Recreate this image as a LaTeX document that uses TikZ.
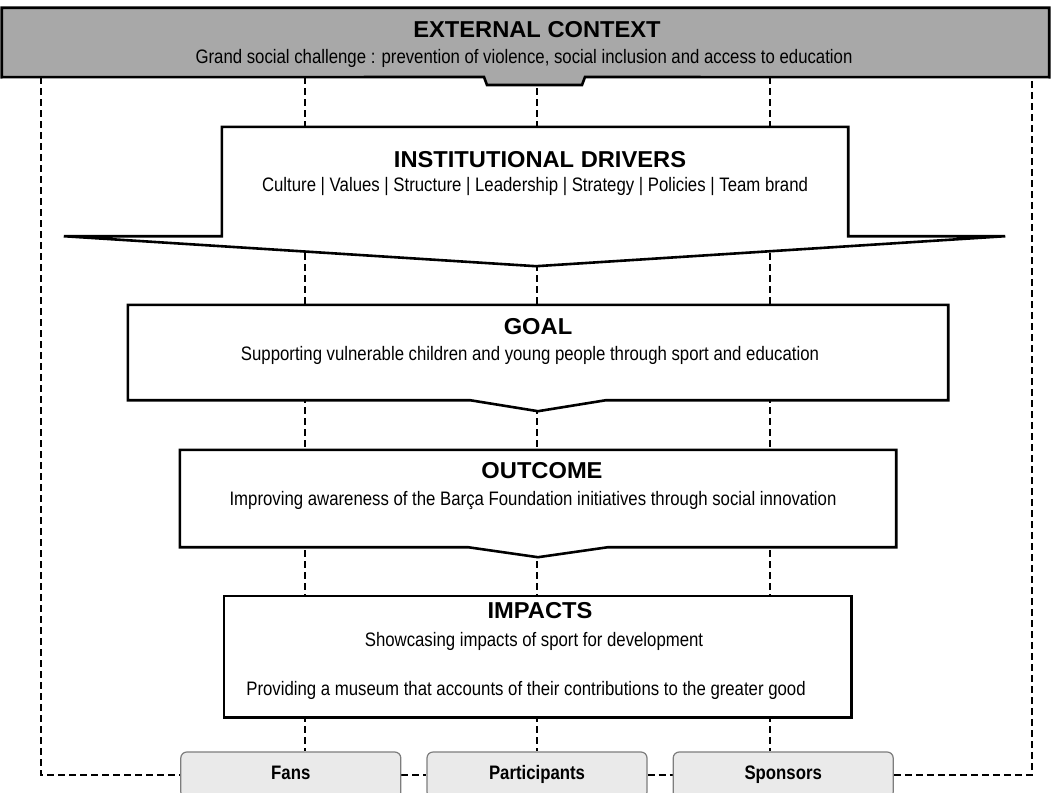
\documentclass[tikz,border=0pt]{standalone}
\usepackage{fontspec}
\setmainfont{Liberation Sans}[FakeStretch=0.86]
\newfontfamily\headfont{Liberation Sans Bold}[FakeStretch=1.03]
\usetikzlibrary{positioning,calc,backgrounds}
\usepackage{xcolor}
\definecolor{CtxGray}{RGB}{168,168,168}
\definecolor{StakeFill}{RGB}{234,234,234}
\definecolor{StakeLine}{RGB}{125,125,125}

\begin{document}
\begin{tikzpicture}[x=1pt,y=-1pt,
node distance=25pt,
frame/.style={draw=black,line width=2.6pt,line join=miter},
hold/.style={rectangle,inner sep=0pt},
ttl/.style={inner sep=0pt,font=\fontsize{23}{27}\headfont},
txt/.style={inner sep=0pt,font=\fontsize{19.5}{23}\selectfont},
link/.style={draw=black,line width=1.5pt,dash pattern=on 7pt off 4pt},
stake/.style={rectangle,rounded corners=6pt,draw=StakeLine,line width=1.2pt,fill=StakeFill,
minimum width=220pt,minimum height=46pt,text height=13pt,text depth=4pt,
font=\fontsize{19.5}{22}\selectfont\bfseries}
]
\useasboundingbox (0,0) rectangle (1051,792);

% frames
\node[hold,minimum width=1047pt,minimum height=69pt] (ctx) at (525.5,42.5) {};
\node[hold,minimum width=626pt,minimum height=109pt] (drv) at (535,181.5) {};
\node[hold,minimum width=820pt,minimum height=95pt] (goal) at (538,352.5) {};
\node[hold,minimum width=716pt,minimum height=97pt] (outc) at (538,498.5) {};
\node[hold,minimum width=627pt,minimum height=121pt] (imp) at (537.5,656.5) {};

\draw[frame,fill=CtxGray] (ctx.north west) -- (ctx.north east) -- (ctx.south east)
  -- (585,77) -- (582,85) -- (487,85) -- (484,77) -- (ctx.south west) -- cycle;
\draw[frame,fill=white] (drv.north west) -- (drv.north east) -- (drv.south east)
  -- ($(drv.south east)+(157,0)$) -- ($(drv.south)+(1,30)$)
  -- ($(drv.south west)+(-158,0)$) -- (drv.south west) -- cycle;
\draw[frame,fill=white] (goal.north west) -- (goal.north east) -- (goal.south east)
  -- ($(goal.south)+(68,0)$) -- ($(goal.south)+(0,11)$) -- ($(goal.south)+(-68,0)$)
  -- (goal.south west) -- cycle;
\draw[frame,fill=white] (outc.north west) -- (outc.north east) -- (outc.south east)
  -- ($(outc.south)+(70,0)$) -- ($(outc.south)+(0,10)$) -- ($(outc.south)+(-70,0)$)
  -- (outc.south west) -- cycle;
\draw[frame,fill=white] (imp.north west) rectangle (imp.south east);

% texts
\node[ttl] (ctxT) at (537,30) {EXTERNAL CONTEXT};
\node[txt] (ctxS) at (524,58) {Grand social challenge : prevention of violence, social inclusion and access to education};
\node[ttl] (drvT) at (540,160) {INSTITUTIONAL DRIVERS};
\node[txt] (drvS) at (535,186) {Culture | Values | Structure | Leadership | Strategy | Policies | Team brand};
\node[ttl] (goalT) at (538,327) {GOAL};
\node[txt] (goalS) at (530,355) {Supporting vulnerable children and young people through sport and education};
\node[ttl] (outcT) at (542,471) {OUTCOME};
\node[txt] (outcS) at (533,500) {Improving awareness of the Barça Foundation initiatives through social innovation};
\node[ttl] (impT) at (540,611) {IMPACTS};
\node[txt] (impS) at (534,641) {Showcasing impacts of sport for development};
\node[txt] (impP) at (526,690) {Providing a museum that accounts of their contributions to the greater good};

% stakeholders
\node[stake] (part) at (537,775) {Participants};
\node[stake,left=of part] (fans) {Fans};
\node[stake,right=of part] (spons) {Sponsors};

% dashed links
\coordinate (lc) at (41,775);
\coordinate (rc) at (1032,775);
\coordinate (v1) at (305,77);
\coordinate (v3) at (770,77);
\begin{scope}[on background layer]
\draw[link] (v1) -- (v1 |- fans.north);
\draw[link] (part.north |- ctx.south) -- (part.north);
\draw[link] (v3) -- (v3 |- spons.north);
\draw[link] (lc |- ctx.south) -- (lc) -- (fans.west);
\draw[link] (fans.east) -- (part.west);
\draw[link] (part.east) -- (spons.west);
\draw[link] (spons.east) -- (rc) -- (rc |- ctx.south);
\end{scope}
\end{tikzpicture}
\end{document}
